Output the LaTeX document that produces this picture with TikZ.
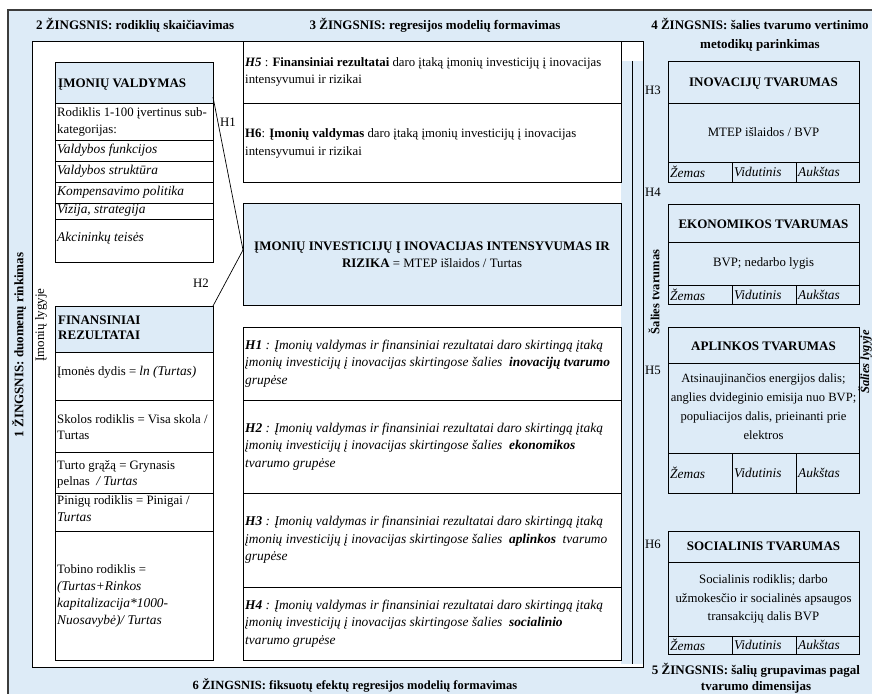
\documentclass[tikz,border=0pt]{standalone}
\usepackage{fontspec}
\setmainfont{Liberation Serif}
\usetikzlibrary{calc}
\definecolor{lblue}{RGB}{221,235,247}
\definecolor{framegray}{RGB}{60,60,60}
\newcommand{\cellbox}[6]{\node[#1, minimum width={(#5-#3)*1pt}, minimum height={(#6-#4)*1pt}] (#2) at ({(#3+#5)/2},{(#4+#6)/2}) {};}
\newcommand{\myit}[1]{{\fontsize{13.4}{17.5}\selectfont\itshape #1}}
\begin{document}
\begin{tikzpicture}[x=1pt,y=-1pt,
  cell/.style={draw=black, line width=0.75pt, inner sep=0pt, outer sep=0pt},
  bcell/.style={cell, fill=lblue},
  wcell/.style={cell, fill=white},
  rcell/.style={cell},
  txt/.style={inner sep=0pt, align=left, font=\fontsize{12.8}{17.5}\selectfont},
  itxt/.style={inner sep=0pt, align=left, font=\fontsize{13.4}{17.5}\selectfont\itshape},
  ctxt/.style={inner sep=0pt, align=center, font=\fontsize{12.8}{18.5}\selectfont},
  hdr/.style={inner sep=0pt, align=center, font=\fontsize{13}{17}\selectfont\bfseries},
  ttl/.style={inner sep=0pt, align=center, font=\fontsize{13}{19}\selectfont\bfseries},
]
\useasboundingbox (0,0) rectangle (872,693);
\clip (0,0) rectangle (872,693);
% outer frame
\fill[lblue] (8,10) rectangle (900,720);
\draw[framegray, line width=1.2pt] (900,10) -- (8,10) -- (8,720);
% white working area
\fill[white] (32,41) rectangle (643,667);
\fill[lblue] (621,61) rectangle (643,664);
\draw[line width=0.8pt] (32,41) rectangle (643,667);
\draw[line width=0.75pt] (632,61) -- (632,664);

% titles
\node[ttl, anchor=west] (t2) at (36,25) {2 ŽINGSNIS: rodiklių skaičiavimas};
\node[ttl] (t3) at (435,25) {3 ŽINGSNIS: regresijos modelių formavimas};
\node[ttl] (t4) at (760,35) {4 ŽINGSNIS: šalies tvarumo vertinimo\\metodikų parinkimas};
\node[ttl, font=\fontsize{13}{16}\selectfont\bfseries] (t5) at (756,678) {5 ŽINGSNIS: šalių grupavimas pagal\\tvarumo dimensijas};
\node[ttl, font=\fontsize{12.5}{16}\selectfont\bfseries] (t6) at (355,685) {6 ŽINGSNIS: fiksuotų efektų regresijos modelių formavimas};
\node[ttl, rotate=90] (t1) at (19,345) {1 ŽINGSNIS: duomenų rinkimas};
\node[txt, rotate=90, font=\fontsize{13}{16}\selectfont] (imlyg) at (41,325) {Įmonių lygyje};

% ĮMONIŲ VALDYMAS table
\cellbox{bcell}{valdH}{55}{62}{213}{103}
\node[hdr, anchor=west] at ([xshift=3pt,yshift=-2pt]valdH.west) {ĮMONIŲ VALDYMAS};
\cellbox{wcell}{vald1}{55}{103}{213}{140}
\node[txt, anchor=west, font=\fontsize{12.8}{17}\selectfont] at ([xshift=2pt]vald1.west) {Rodiklis 1-100 įvertinus sub-\\kategorijas:};
\cellbox{wcell}{vald2}{55}{140}{213}{161}
\node[itxt, anchor=west] at ([xshift=2pt]vald2.west) {Valdybos funkcijos};
\cellbox{wcell}{vald3}{55}{161}{213}{182}
\node[itxt, anchor=west] at ([xshift=2pt]vald3.west) {Valdybos struktūra};
\cellbox{wcell}{vald4}{55}{182}{213}{203}
\node[itxt, anchor=west] at ([xshift=2pt]vald4.west) {Kompensavimo politika};
\cellbox{wcell}{vald5}{55}{203}{213}{219}
\node[itxt, anchor=west] at ([xshift=2pt,yshift=1pt]vald5.west) {Vizija, strategija};
\cellbox{wcell}{vald6}{55}{219}{213}{262}
\node[itxt, anchor=west] at ([xshift=2pt,yshift=2pt]vald6.west) {Akcininkų teisės};

% FINANSINIAI REZULTATAI table
\cellbox{bcell}{finH}{55}{306}{213}{352}
\node[hdr, anchor=west, align=left, font=\fontsize{13}{15}\selectfont\bfseries] at ([xshift=3pt,yshift=1pt]finH.west) {FINANSINIAI\\REZULTATAI};
\cellbox{wcell}{fin1}{55}{352}{213}{400}
\node[txt, anchor=west] at ([xshift=2pt,yshift=4pt]fin1.west) {Įmonės dydis = \myit{ln (Turtas)}};
\cellbox{wcell}{fin2}{55}{400}{213}{452}
\node[txt, anchor=west, font=\fontsize{12.8}{16.5}\selectfont] at ([xshift=2pt,yshift=-1pt]fin2.west) {Skolos rodiklis = Visa skola /\\Turtas};
\cellbox{wcell}{fin3}{55}{452}{213}{493}
\node[txt, anchor=west, font=\fontsize{12.8}{16.5}\selectfont] at ([xshift=2pt,yshift=-2pt]fin3.west) {Turto grąžą = Grynasis\\pelnas \ \myit{/ Turtas}};
\cellbox{wcell}{fin4}{55}{493}{213}{531}
\node[txt, anchor=west, font=\fontsize{12.8}{17}\selectfont] at ([xshift=2pt,yshift=3pt]fin4.west) {Pinigų rodiklis = Pinigai /\\\myit{Turtas}};
\cellbox{wcell}{fin5}{55}{531}{213}{660}
\node[txt, anchor=west, font=\fontsize{12.8}{17}\selectfont] at ([xshift=2pt]fin5.west) {Tobino rodiklis =\\\myit{(Turtas+Rinkos}\\\myit{kapitalizacija*1000-}\\\myit{Nuosavybė)/ Turtas}};

% step 3 column
\cellbox{wcell}{h5}{243}{41}{621}{103}
\node[txt, anchor=west] at ([xshift=2pt]h5.west) {\textbf{\textit{H5}} : \textbf{Finansiniai rezultatai} daro įtaką įmonių investicijų į inovacijas\\intensyvumui ir rizikai};
\cellbox{wcell}{h6}{243}{103}{621}{182}
\node[txt, anchor=west] at ([xshift=2pt,yshift=-1pt]h6.west) {\textbf{H6}: \textbf{Įmonių valdymas} daro įtaką įmonių investicijų į inovacijas\\intensyvumui ir rizikai};
\cellbox{bcell}{inv}{243}{203}{621}{305}
\node[hdr, font=\fontsize{13}{17}\selectfont] at ([yshift=-1pt]inv.center) {\bfseries ĮMONIŲ INVESTICIJŲ Į INOVACIJAS INTENSYVUMAS IR\\{\bfseries RIZIKA} {\fontsize{12.8}{17}\selectfont\mdseries = MTEP išlaidos / Turtas}};

\cellbox{wcell}{hh1}{243}{327}{621}{400}
\node[itxt, anchor=west] at ([xshift=2pt]hh1.west) {\textbf{H1} : Įmonių valdymas ir finansiniai rezultatai daro skirtingą įtaką\\įmonių investicijų į inovacijas skirtingose šalies \ \textbf{inovacijų tvarumo}\\grupėse};
\cellbox{wcell}{hh2}{243}{400}{621}{493}
\node[itxt, anchor=west] at ([xshift=2pt]hh2.west) {\textbf{H2} : Įmonių valdymas ir finansiniai rezultatai daro skirtingą įtaką\\įmonių investicijų į inovacijas skirtingose šalies \ \textbf{ekonomikos}\\tvarumo grupėse};
\cellbox{wcell}{hh3}{243}{493}{621}{587}
\node[itxt, anchor=west] at ([xshift=2pt]hh3.west) {\textbf{H3} : Įmonių valdymas ir finansiniai rezultatai daro skirtingą įtaką\\įmonių investicijų į inovacijas skirtingose šalies \ \textbf{aplinkos} \ tvarumo\\grupėse};
\cellbox{wcell}{hh4}{243}{587}{621}{660}
\node[itxt, anchor=west] at ([xshift=2pt]hh4.west) {\textbf{H4} : Įmonių valdymas ir finansiniai rezultatai daro skirtingą įtaką\\įmonių investicijų į inovacijas skirtingose šalies \ \textbf{socialinio}\\tvarumo grupėse};

% connectors H1, H2
\coordinate (meet) at ([yshift=4pt]inv.west);
\coordinate (vstart) at ([yshift=6pt]valdH.south east);
\draw[line width=0.7pt] (vstart) -- (meet);
\draw[line width=0.7pt] (finH.north east) -- (meet);
\node[txt] (lh1) at (228,122) {H1};
\node[txt] (lh2) at (201,283) {H2};

% right side: country sustainability
\node[txt, rotate=90, font=\fontsize{12.5}{15}\selectfont\bfseries] (saltv) at (654,292) {Šalies tvarumas};
\node[txt, rotate=90, font=\fontsize{12.5}{15}\selectfont\bfseries\itshape] (sallyg) at (865,362) {Šalies lygyje};
\node[txt, anchor=west] (lh3) at (645,90) {H3};
\node[txt, anchor=west] (lh4) at (645,192) {H4};
\node[txt, anchor=west] (lh5) at (645,370) {H5};
\node[txt, anchor=west] (lh6) at (645,544) {H6};

% INOVACIJŲ
\cellbox{rcell}{inoH}{668}{61}{859}{103}
\node[hdr] at ([yshift=-2pt]inoH.center) {INOVACIJŲ TVARUMAS};
\cellbox{rcell}{inoB}{668}{103}{859}{162}
\node[ctxt] at (inoB.center) {MTEP išlaidos / BVP};
\cellbox{rcell}{inoL}{668}{162}{732}{182}
\cellbox{rcell}{inoM}{732}{162}{796}{182}
\cellbox{rcell}{inoR}{796}{162}{859}{182}
\node[itxt, anchor=west] at ([xshift=2pt]inoL.west) {Žemas};
\node[itxt, anchor=west] at ([xshift=2pt]inoM.west) {Vidutinis};
\node[itxt, anchor=west] at ([xshift=2pt]inoR.west) {Aukštas};

% EKONOMIKOS
\cellbox{rcell}{ekoH}{668}{204}{859}{242}
\node[hdr] at ([yshift=-1pt]ekoH.center) {EKONOMIKOS TVARUMAS};
\cellbox{rcell}{ekoB}{668}{242}{859}{285}
\node[ctxt] at (ekoB.center) {BVP; nedarbo lygis};
\cellbox{rcell}{ekoL}{668}{285}{732}{304}
\cellbox{rcell}{ekoM}{732}{285}{796}{304}
\cellbox{rcell}{ekoR}{796}{285}{859}{304}
\node[itxt, anchor=west] at ([xshift=2pt]ekoL.west) {Žemas};
\node[itxt, anchor=west] at ([xshift=2pt]ekoM.west) {Vidutinis};
\node[itxt, anchor=west] at ([xshift=2pt]ekoR.west) {Aukštas};

% APLINKOS
\cellbox{rcell}{aplH}{668}{327}{859}{363}
\node[hdr] at ([yshift=-1pt]aplH.center) {APLINKOS TVARUMAS};
\cellbox{rcell}{aplB}{668}{363}{859}{453}
\node[ctxt, font=\fontsize{12.6}{19}\selectfont] at ([yshift=1pt]aplB.center) {Atsinaujinančios energijos dalis;\\anglies dvideginio emisija nuo BVP;\\populiacijos dalis, prieinanti prie\\elektros};
\cellbox{rcell}{aplL}{668}{453}{732}{493}
\cellbox{rcell}{aplM}{732}{453}{796}{493}
\cellbox{rcell}{aplR}{796}{453}{859}{493}
\node[itxt, anchor=west] at ([xshift=2pt]aplL.west) {Žemas};
\node[itxt, anchor=west] at ([xshift=2pt]aplM.west) {Vidutinis};
\node[itxt, anchor=west] at ([xshift=2pt]aplR.west) {Aukštas};

% SOCIALINIS
\cellbox{rcell}{socH}{668}{531}{859}{562}
\node[hdr] at (socH.center) {SOCIALINIS TVARUMAS};
\cellbox{rcell}{socB}{668}{562}{859}{636}
\node[ctxt] at (socB.center) {Socialinis rodiklis; darbo\\užmokesčio ir socialinės apsaugos\\transakcijų dalis BVP};
\cellbox{rcell}{socL}{668}{636}{732}{654}
\cellbox{rcell}{socM}{732}{636}{796}{654}
\cellbox{rcell}{socR}{796}{636}{859}{654}
\node[itxt, anchor=west] at ([xshift=2pt]socL.west) {Žemas};
\node[itxt, anchor=west] at ([xshift=2pt]socM.west) {Vidutinis};
\node[itxt, anchor=west] at ([xshift=2pt]socR.west) {Aukštas};
\end{tikzpicture}
\end{document}
